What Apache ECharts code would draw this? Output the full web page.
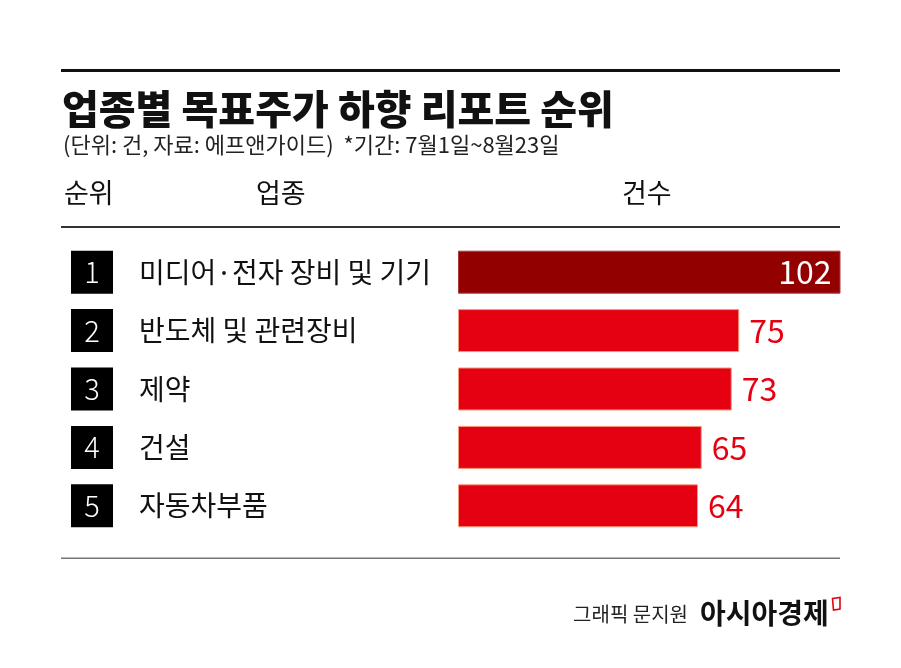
<!DOCTYPE html>
<html>
<head>
<meta charset="utf-8">
<script src="https://cdn.jsdelivr.net/npm/echarts@6/dist/echarts.min.js"></script>
<style>
html,body{margin:0;padding:0;background:#fff;}
#chart{width:901px;height:668px;}
</style>
</head>
<body>
<div id="chart"></div>
<script>
var titleText = '업종별 목표주가 하향 리포트 순위';
var subtitleText = '(단위: 건, 자료: 에프앤가이드)  *기간: 7월1일~8월23일';
var headers = ['순위', '업종', '건수'];
var ranks = ['1', '2', '3', '4', '5'];
var categories = ['미디어·전자 장비 및 기기', '반도체 및 관련장비', '제약', '건설', '자동차부품'];
var values = [102, 75, 73, 65, 64];
var creditText = '그래픽 문지원';
var brandText = '아시아경제';

var FONT = '"Noto Sans CJK KR", "Noto Sans", sans-serif';
var RED = '#e50012';
var DARK = '#920000';

var chart = echarts.init(document.getElementById('chart'), null, {renderer: 'canvas'});

var barData = values.map(function (v, i) {
  if (i === 0) {
    return {
      value: v,
      itemStyle: {color: DARK, borderColor: '#b03a3a', borderWidth: 1},
      label: {position: 'insideRight', distance: 9, color: '#ffffff'}
    };
  }
  return v;
});

var option = {
  backgroundColor: '#ffffff',
  animation: false,
  grid: {left: 458, right: 60.5, top: 243, bottom: 133, containLabel: false},
  xAxis: {
    type: 'value', min: 0, max: 102,
    show: false
  },
  yAxis: {
    type: 'category',
    inverse: true,
    data: categories,
    axisLine: {show: false},
    axisTick: {show: false},
    splitLine: {show: false},
    axisLabel: {
      show: true,
      align: 'left',
      margin: 387,
      formatter: function (val, idx) {
        return '{box|' + ranks[idx] + '}{name|' + val + '}';
      },
      rich: {
        box: {
          width: 42, height: 43, lineHeight: 43,
          backgroundColor: '#000000',
          color: '#ffffff',
          align: 'center',
          fontFamily: FONT,
          fontSize: 29,
          fontWeight: 300
        },
        name: {
          color: '#111111',
          fontFamily: FONT,
          fontSize: 28,
          padding: [0, 0, 0, 26],
          lineHeight: 43
        }
      }
    }
  },
  series: [{
    type: 'bar',
    data: barData,
    barWidth: 43,
    itemStyle: {color: RED, borderColor: '#f39a7a', borderWidth: 1},
    label: {
      show: true,
      position: 'right',
      distance: 10,
      color: RED,
      fontFamily: FONT,
      fontSize: 32,
      fontWeight: 400
    }
  }],
  graphic: [
    {type: 'rect', shape: {x: 61, y: 69, width: 779, height: 3}, style: {fill: '#111111'}, silent: true},
    {type: 'text', x: 62, y: 109,
      style: {text: titleText, font: '900 40px ' + FONT, fill: '#111111', textAlign: 'left', textVerticalAlign: 'middle'}},
    {type: 'text', x: 63, y: 145,
      style: {text: subtitleText, font: '22px ' + FONT, fill: '#222222', textAlign: 'left', textVerticalAlign: 'middle'}},
    {type: 'text', x: 64, y: 193,
      style: {text: headers[0], font: '27px ' + FONT, fill: '#111111', textAlign: 'left', textVerticalAlign: 'middle'}},
    {type: 'text', x: 256, y: 193,
      style: {text: headers[1], font: '27px ' + FONT, fill: '#111111', textAlign: 'left', textVerticalAlign: 'middle'}},
    {type: 'text', x: 622, y: 193,
      style: {text: headers[2], font: '27px ' + FONT, fill: '#111111', textAlign: 'left', textVerticalAlign: 'middle'}},
    {type: 'rect', shape: {x: 61, y: 226, width: 779, height: 2}, style: {fill: '#333333'}, silent: true},
    {type: 'rect', shape: {x: 61, y: 557.5, width: 779, height: 1.5}, style: {fill: '#777777'}, silent: true},
    {type: 'text', x: 688, y: 614,
      style: {text: creditText, font: '20px ' + FONT, fill: '#222222', textAlign: 'right', textVerticalAlign: 'middle'}},
    {type: 'text', x: 700, y: 613,
      style: {text: brandText, font: 'bold 28px ' + FONT, fill: '#111111', textAlign: 'left', textVerticalAlign: 'middle'}},
    {type: 'polygon', shape: {points: [[832.5, 598.5], [840, 597.5], [840, 609], [833.5, 610]]},
      style: {fill: 'none', stroke: '#e50012', lineWidth: 1.6}}
  ]
};

chart.setOption(option);
</script>
</body>
</html>
